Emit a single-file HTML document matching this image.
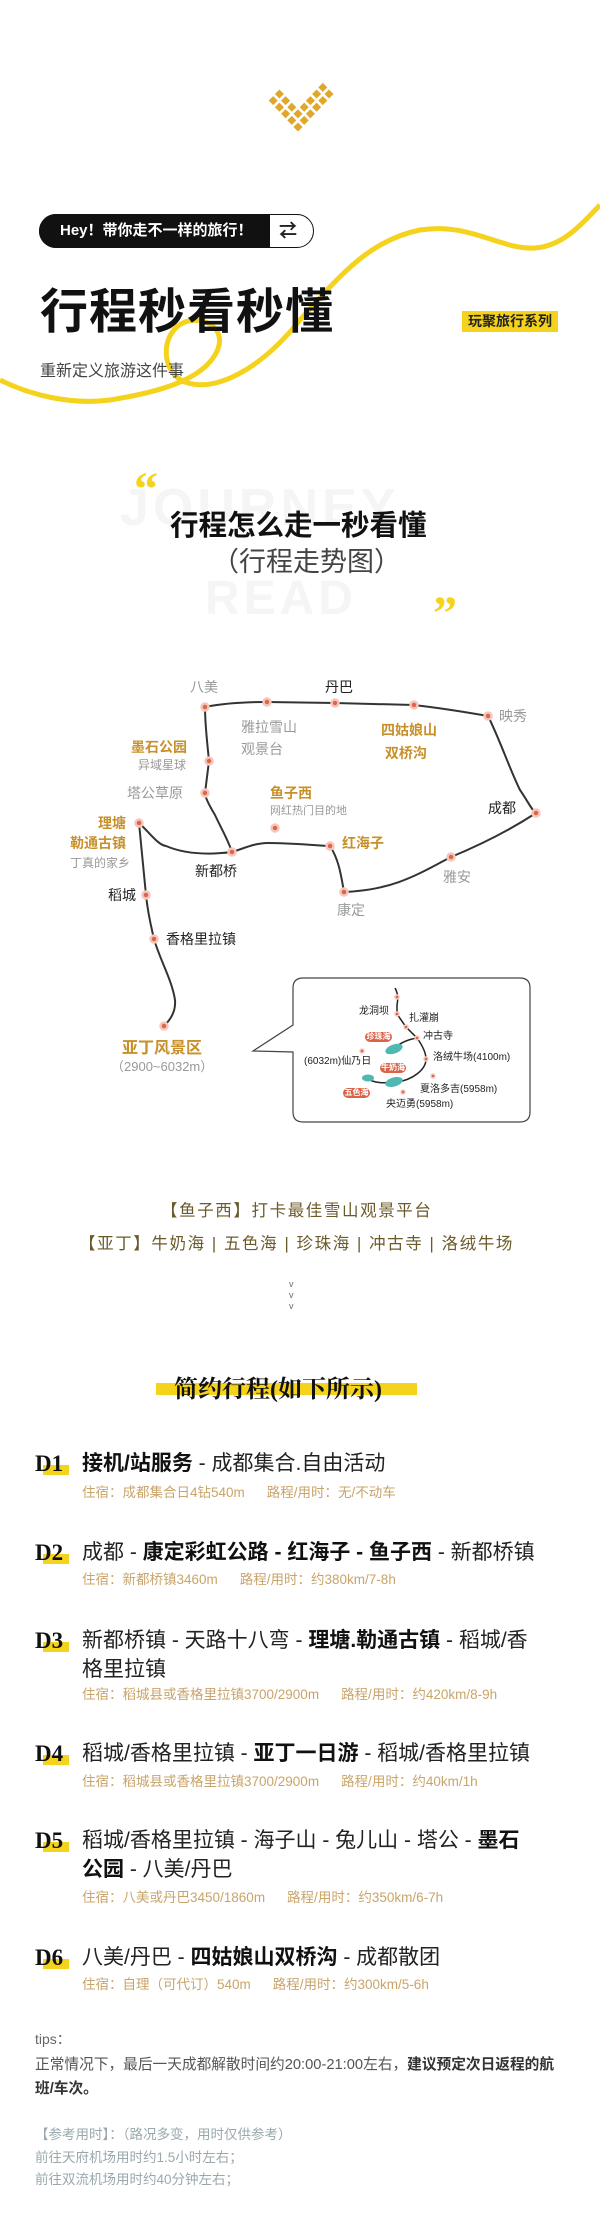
<!DOCTYPE html>
<html><head><meta charset="utf-8"><style>
*{margin:0;padding:0;box-sizing:border-box}
body{width:600px;height:2238px;position:relative;background:#fff;font-family:"Liberation Sans","Noto Sans CJK SC",sans-serif;overflow:hidden;color:#222}
.a{position:absolute;white-space:nowrap;line-height:1}
.g{color:#999}.o{color:#c8902a;font-weight:bold}.k{color:#222}
.dl{position:absolute;left:35px;font-family:"Liberation Serif","Noto Serif CJK SC",serif;font-weight:bold;font-size:23px;line-height:1;color:#111}
.dl i{position:absolute;left:8px;top:13px;width:26px;height:10px;background:#f5d21c;z-index:-1}
.m{position:absolute;left:82px;font-size:21px;line-height:29px;color:#222;width:510px}
.m b{font-weight:bold;color:#111}
.s{position:absolute;left:82px;font-size:13.5px;line-height:1;color:#c9a46a;white-space:nowrap}
.s span{margin-left:22px}
.bd{position:absolute;background:#d9644a;color:#fff;font-size:8px;line-height:10px;border-radius:5px;text-align:center;font-weight:bold}
</style></head><body>

<svg class="a" style="left:0;top:0" width="600" height="1130" viewBox="0 0 600 1130">
<!-- yellow curve -->
<path d="M0,380 C30,395 70,405 110,400 C160,392 200,380 215,355 C230,330 205,315 185,322 C160,332 160,372 185,382 C215,393 260,370 300,320 C340,275 370,240 420,230 C470,222 500,250 535,248 C565,246 585,220 600,205" fill="none" stroke="#f5d21c" stroke-width="5"/>
<!-- map routes -->
<g fill="none" stroke="#333" stroke-width="2">
<path d="M139,823 C150,833 158,845 166,846 C180,852 200,856 232,852 C228,840 222,830 215,815 C206,800 205,795 205,793 L209,761 C207,740 205,725 205,707 C225,703 245,702 267,702 L335,703 L414,705 C440,708 465,712 488,716 C500,740 510,770 520,790 C527,800 533,812 536,813 C510,830 480,845 451,857 C420,873 395,890 344,892 C341,875 339,860 330,846 C310,845 290,843 268,843 C255,843 245,848 232,852"/>
<path d="M139,823 L146,895 C148,915 152,930 154,939 C160,960 172,980 175,1000 C176,1012 170,1020 164,1026"/>
</g>
<g fill="#e0644a" stroke="#f3c8bc" stroke-width="2.5">
<circle cx="205" cy="707" r="3.5"/><circle cx="267" cy="702" r="3.5"/><circle cx="335" cy="703" r="3.5"/><circle cx="414" cy="705" r="3.5"/><circle cx="488" cy="716" r="3.5"/><circle cx="536" cy="813" r="3.5"/><circle cx="451" cy="857" r="3.5"/><circle cx="344" cy="892" r="3.5"/><circle cx="330" cy="846" r="3.5"/><circle cx="275" cy="828" r="3.5"/><circle cx="232" cy="852" r="3.5"/><circle cx="205" cy="793" r="3.5"/><circle cx="209" cy="761" r="3.5"/><circle cx="139" cy="823" r="3.5"/><circle cx="146" cy="895" r="3.5"/><circle cx="154" cy="939" r="3.5"/><circle cx="164" cy="1026" r="3.5"/>
</g>
<!-- inset -->
<path d="M303,978 H520 Q530,978 530,988 V1112 Q530,1122 520,1122 H303 Q293,1122 293,1112 V1052 L253,1051 L293,1025 V988 Q293,978 303,978 Z" fill="#fff" stroke="#444" stroke-width="1.2"/>
<g fill="none" stroke="#222" stroke-width="1.5">
<path d="M395,988 C398,993 398,1000 397,1005 L397,1014 L406,1027 L417,1038 C422,1045 426,1052 426,1059 C426,1070 412,1080 397,1082"/>
<path d="M417,1038 C405,1040 398,1045 395,1048"/>
<path d="M364,1077 C372,1082 380,1084 393,1082"/>
</g>
<g fill="#4fb8b0"><ellipse cx="394" cy="1049" rx="9" ry="4.5" transform="rotate(-20 394 1049)"/><ellipse cx="394" cy="1082" rx="9" ry="4.5" transform="rotate(-15 394 1082)"/><ellipse cx="368" cy="1078" rx="6" ry="3.5"/></g>
<g fill="#d9644a" stroke="#f3c8bc" stroke-width="1.5">
<circle cx="397" cy="997" r="2"/><circle cx="397" cy="1014" r="2"/><circle cx="406" cy="1027" r="2"/><circle cx="417" cy="1038" r="2"/><circle cx="426" cy="1059" r="2"/><circle cx="362" cy="1051" r="2"/><circle cx="433" cy="1076" r="2"/><circle cx="403" cy="1092" r="2"/>
</g>
</svg>

<svg class="a" style="left:255px;top:78px" width="90" height="55" viewBox="0 0 90 55" id="lg"></svg>
<script>
(function(){var s=document.getElementById('lg'),h='';var bx=43,by=49;
function c(a,b){var x=bx-a*6.2+b*6.2,y=by-a*6.6-b*6.6;h+='<rect x="'+(x-3.2)+'" y="'+(y-3.2)+'" width="6.4" height="6.4" fill="#e0a72a" transform="rotate(45 '+x+' '+y+')"/>';}
var seen={};for(var a=0;a<5;a++)for(var b=0;b<2;b++){seen[a+','+b]=1;c(a,b);}
for(var a=0;a<2;a++)for(var b=0;b<6;b++){if(!seen[a+','+b])c(a,b);}
s.innerHTML=h;})();
</script>

<!-- header -->
<div class="a" style="left:39px;top:214px;width:275px;height:34px;border:1.5px solid #111;border-radius:17px;background:#fff"></div>
<div class="a" style="left:39px;top:214px;width:231px;height:34px;border-radius:17px 0 0 17px;background:#111;color:#fff;font-size:15px;font-weight:bold;line-height:34px;padding-left:21px">Hey！带你走不一样的旅行！</div>
<div class="a" style="left:279px;top:220px;font-size:18px;font-weight:bold;line-height:22px">⇄</div>
<div class="a" style="left:40px;top:289px;font-size:48px;font-weight:bold;letter-spacing:1px;color:#111">行程秒看秒懂</div>
<div class="a" style="left:40px;top:364px;font-size:16px;color:#444">重新定义旅游这件事</div>
<div class="a" style="left:462px;top:311px;width:96px;height:21px;background:#f5d21c;font-size:14px;font-weight:bold;line-height:21px;padding-left:6px;color:#222">玩聚旅行系列</div>

<!-- section title -->
<div class="a" style="left:120px;top:482px;font-size:52px;font-weight:bold;color:#f5f5f5;letter-spacing:4px">JOURNEY</div>
<div class="a" style="left:205px;top:575px;font-size:48px;font-weight:bold;color:#f5f5f5;letter-spacing:4px">READ</div>
<div class="a" style="left:134px;top:466px;font-size:48px;font-weight:bold;color:#f5d21c;font-family:'Liberation Serif',serif">“</div>
<div class="a" style="left:433px;top:590px;font-size:48px;font-weight:bold;color:#f5d21c;font-family:'Liberation Serif',serif">”</div>
<div class="a" style="left:170px;top:512px;font-size:28.5px;font-weight:bold;color:#111">行程怎么走一秒看懂</div>
<div class="a" style="left:212px;top:549px;font-size:27px;color:#444">（行程走势图）</div>

<!-- map labels -->
<div class="a g" style="left:190px;top:680px;font-size:14px">八美</div>
<div class="a k" style="left:325px;top:680px;font-size:14px">丹巴</div>
<div class="a g" style="left:241px;top:716px;font-size:14px;line-height:22px">雅拉雪山<br>观景台</div>
<div class="a o" style="left:381px;top:719px;font-size:14px;line-height:23px">四姑娘山<br>&nbsp;双桥沟</div>
<div class="a g" style="left:499px;top:709px;font-size:14px">映秀</div>
<div class="a o" style="left:131px;top:740px;font-size:14px">墨石公园</div>
<div class="a g" style="left:138px;top:759px;font-size:12px">异域星球</div>
<div class="a g" style="left:127px;top:786px;font-size:14px">塔公草原</div>
<div class="a o" style="left:270px;top:786px;font-size:14px">鱼子西</div>
<div class="a g" style="left:270px;top:806px;font-size:11px">网红热门目的地</div>
<div class="a k" style="left:488px;top:801px;font-size:14px">成都</div>
<div class="a o" style="left:98px;top:816px;font-size:14px">理塘</div>
<div class="a o" style="left:70px;top:836px;font-size:14px">勒通古镇</div>
<div class="a g" style="left:70px;top:857px;font-size:12px">丁真的家乡</div>
<div class="a o" style="left:342px;top:836px;font-size:14px">红海子</div>
<div class="a k" style="left:195px;top:864px;font-size:14px">新都桥</div>
<div class="a g" style="left:443px;top:870px;font-size:14px">雅安</div>
<div class="a k" style="left:108px;top:888px;font-size:14px">稻城</div>
<div class="a g" style="left:337px;top:903px;font-size:14px">康定</div>
<div class="a k" style="left:166px;top:932px;font-size:14px">香格里拉镇</div>
<div class="a o" style="left:122px;top:1041px;font-size:16px">亚丁风景区</div>
<div class="a g" style="left:111px;top:1060px;font-size:13px">（2900~6032m）</div>

<!-- inset labels -->
<div class="a k" style="left:359px;top:1007px;font-size:10px">龙洞坝</div>
<div class="a k" style="left:409px;top:1014px;font-size:10px">扎灌崩</div>
<div class="a k" style="left:423px;top:1032px;font-size:10px">冲古寺</div>
<div class="a k" style="left:433px;top:1053px;font-size:10px">洛绒牛场(4100m)</div>
<div class="a k" style="left:304px;top:1057px;font-size:10px">(6032m)仙乃日</div>
<div class="a k" style="left:420px;top:1085px;font-size:10px">夏洛多吉(5958m)</div>
<div class="a k" style="left:386px;top:1100px;font-size:10px">央迈勇(5958m)</div>
<div class="bd" style="left:365px;top:1032px;width:27px">珍珠海</div>
<div class="bd" style="left:380px;top:1063px;width:26px">牛奶海</div>
<div class="bd" style="left:343px;top:1088px;width:27px">五色海</div>

<!-- highlights -->
<div class="a" style="left:161px;top:1203px;font-size:16.5px;letter-spacing:1.6px;color:#6b5a2a">【鱼子西】打卡最佳雪山观景平台</div>
<div class="a" style="left:79px;top:1236px;font-size:16.5px;letter-spacing:1.6px;color:#6b5a2a">【亚丁】牛奶海 | 五色海 | 珍珠海 | 冲古寺 | 洛绒牛场</div>
<div class="a" style="left:289px;top:1279px;font-size:9px;line-height:11px;color:#666;text-align:center">v<br>v<br>v</div>

<!-- itinerary -->
<div class="a" style="left:156px;top:1383px;width:261px;height:12px;background:#f5d21c"></div>
<div class="a" style="left:174px;top:1378px;font-size:24px;font-weight:bold;font-family:'Liberation Serif','Noto Serif CJK SC',serif;color:#111">简约行程(如下所示)</div>

<div class="dl" style="top:1452px">D1<i></i></div>
<div class="m" style="top:1449px"><b>接机/站服务</b> - 成都集合.自由活动</div>
<div class="s" style="top:1486px">住宿：成都集合日4钻540m<span>路程/用时：无/不动车</span></div>

<div class="dl" style="top:1541px">D2<i></i></div>
<div class="m" style="top:1538px;width:520px">成都 - <b>康定彩虹公路 - 红海子 - 鱼子西</b> - 新都桥镇</div>
<div class="s" style="top:1573px">住宿：新都桥镇3460m<span>路程/用时：约380km/7-8h</span></div>

<div class="dl" style="top:1629px">D3<i></i></div>
<div class="m" style="top:1626px">新都桥镇 - 天路十八弯 - <b>理塘.勒通古镇</b> - 稻城/香<br>格里拉镇</div>
<div class="s" style="top:1688px">住宿：稻城县或香格里拉镇3700/2900m<span>路程/用时：约420km/8-9h</span></div>

<div class="dl" style="top:1742px">D4<i></i></div>
<div class="m" style="top:1739px">稻城/香格里拉镇 - <b>亚丁一日游</b> - 稻城/香格里拉镇</div>
<div class="s" style="top:1775px">住宿：稻城县或香格里拉镇3700/2900m<span>路程/用时：约40km/1h</span></div>

<div class="dl" style="top:1829px">D5<i></i></div>
<div class="m" style="top:1826px">稻城/香格里拉镇 - 海子山 - 兔儿山 - 塔公 - <b>墨石<br>公园</b> - 八美/丹巴</div>
<div class="s" style="top:1891px">住宿：八美或丹巴3450/1860m<span>路程/用时：约350km/6-7h</span></div>

<div class="dl" style="top:1946px">D6<i></i></div>
<div class="m" style="top:1943px">八美/丹巴 - <b>四姑娘山双桥沟</b> - 成都散团</div>
<div class="s" style="top:1978px">住宿：自理（可代订）540m<span>路程/用时：约300km/5-6h</span></div>

<div class="a" style="left:35px;top:2032px;font-size:14px;color:#666">tips：</div>
<div class="a" style="left:35px;top:2053px;font-size:14.7px;line-height:24px;color:#555;white-space:normal;width:533px">正常情况下，最后一天成都解散时间约20:00-21:00左右，<b style="color:#333">建议预定次日返程的航班/车次。</b></div>
<div class="a" style="left:35px;top:2124px;font-size:13.5px;line-height:22.5px;color:#9aa8ad;white-space:normal;width:540px">【参考用时】：（路况多变，用时仅供参考）<br>前往天府机场用时约1.5小时左右；<br>前往双流机场用时约40分钟左右；</div>
</body></html>
